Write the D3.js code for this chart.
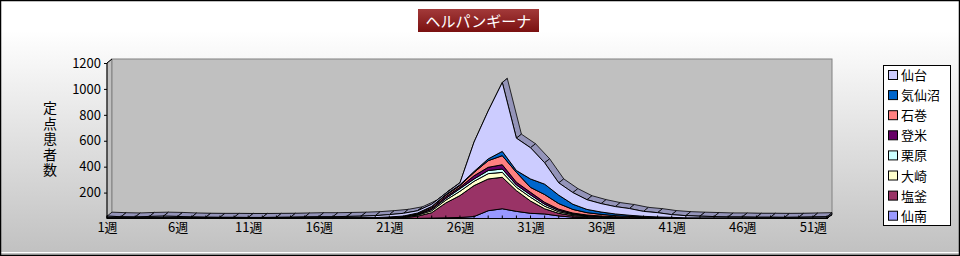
<!DOCTYPE html>
<head>
    <meta charset="utf-8">
    <style>
        body { margin: 0; }
        text { font-family: "Noto Sans CJK JP", sans-serif; }
        .tick text { font-size: 13px; fill: #000; }
        .legend text { font-size: 13px; }
    </style>
    <script src="https://d3js.org/d3.v7.min.js"></script>
</head>
<body>
    <svg width="960" height="256"></svg>
    <script>
        // weeks 1..52
        var weeks = [1,2,3,4,5,6,7,8,9,10,11,12,13,14,15,16,17,18,19,20,
                     21,22,23,24,25,26,27,28,29,30,31,32,33,34,35,36,37,38,39,40,
                     41,42,43,44,45,46,47,48,49,50,51,52];

        // series values per week
        var senan      = [1,1,1,1,1,1,1,1,1,1,1,1,1,1,1,1,1,1,1,1,
                          1,1,1,3,5,8,15,60,75,55,40,35,20,10,6,4,3,2,2,1,1,
                          1,1,1,1,1,1,1,1,1,1,1];
        var shiogama   = [2,2,2,2,2,2,2,2,2,2,2,2,2,2,2,2,2,2,2,2,
                          3,6,17,42,115,169,239,245,243,160,95,40,20,12,8,6,4,3,2,2,1,
                          1,1,1,1,1,1,1,1,1,1,1];
        var osaki      = [1,1,1,1,1,1,1,1,1,1,1,1,1,1,1,1,1,1,1,1,
                          2,3,8,15,22,33,33,41,38,26,29,20,12,8,5,3,2,2,1,1,1,
                          1,1,1,1,1,1,1,1,1,1,1];
        var kurihara   = [1,1,1,1,1,1,1,1,1,1,1,1,1,1,1,1,1,1,1,1,
                          1,2,4,10,13,20,18,24,26,18,18,15,10,6,4,3,2,1,1,1,1,
                          0,0,0,0,0,0,0,0,0,0,0];
        var tome       = [0,0,0,0,0,0,0,0,0,0,0,0,0,0,0,0,0,0,0,0,
                          1,2,4,10,13,11,25,25,33,21,20,15,10,6,4,3,2,2,1,1,1,
                          0,0,0,0,0,0,0,0,0,0,0];
        var ishinomaki = [1,1,1,1,1,1,1,1,1,1,1,1,1,1,1,1,1,1,1,1,
                          3,4,6,10,12,13,26,51,70,76,38,60,43,28,18,13,9,6,5,3,2,
                          1,1,1,1,1,1,1,1,1,1,1];
        var kesennuma  = [1,1,1,1,1,1,1,1,1,1,1,1,1,1,1,1,1,1,1,1,
                          1,1,2,3,5,6,7,14,33,14,65,80,65,40,25,18,13,9,5,3,2,
                          1,1,1,1,1,1,1,1,1,1,1];
        var sendai     = [11,7,5,9,11,9,5,3,2,2,1,1,2,3,5,7,7,9,11,15,
                          18,21,18,17,10,15,227,370,532,250,241,165,95,90,75,65,57,52,38,33,21,
                          17,13,10,7,7,5,5,4,5,7,9];

        var keys   = ["仙南","塩釜","大崎","栗原","登米","石巻","気仙沼","仙台"];
        var series = [senan, shiogama, osaki, kurihara, tome, ishinomaki, kesennuma, sendai];
        var colors = ["#9999ff","#993366","#ffffcc","#ccffff","#660066","#ff8080","#0066cc","#ccccff"];

        var yTicks = [200, 400, 600, 800, 1000, 1200];
        var xLabelWeeks = [1, 6, 11, 16, 21, 26, 31, 36, 41, 46, 51];

        var rows = weeks.map(function(w, i) {
            var r = { week: w };
            keys.forEach(function(k, j) { r[k] = series[j][i]; });
            return r;
        });

        var svg = d3.select("svg");
        var defs = svg.append("defs");

        var bg = defs.append("linearGradient").attr("id", "bg")
            .attr("x1", 0).attr("y1", 0).attr("x2", 0).attr("y2", 1);
        bg.append("stop").attr("offset", "0.12").attr("stop-color", "#ffffff");
        bg.append("stop").attr("offset", "1").attr("stop-color", "#c0c0c0");

        var tg = defs.append("linearGradient").attr("id", "tg")
            .attr("x1", 0).attr("y1", 0).attr("x2", 0).attr("y2", 1);
        tg.append("stop").attr("offset", "0").attr("stop-color", "#a33a3a");
        tg.append("stop").attr("offset", "1").attr("stop-color", "#7a1010");

        svg.append("rect").attr("x", 0).attr("y", 0).attr("width", 960).attr("height", 256)
            .attr("fill", "url(#bg)");
        svg.append("line").attr("x1", 1).attr("x2", 959).attr("y1", 252.5).attr("y2", 252.5)
            .attr("stroke", "#fff");
        svg.append("rect").attr("x", 0.5).attr("y", 0.5).attr("width", 959).attr("height", 255)
            .attr("fill", "none").attr("stroke", "#000").attr("stroke-width", 1.5);

        // title
        svg.append("rect").attr("x", 418).attr("y", 9).attr("width", 121).attr("height", 23)
            .attr("fill", "url(#tg)");
        svg.append("text").attr("x", 478.5).attr("y", 26.5).attr("text-anchor", "middle")
            .attr("fill", "#fff").style("font-size", "15px").text("ヘルパンギーナ");

        var x = d3.scalePoint().domain(weeks).range([107, 827]);
        var y = d3.scaleLinear().domain([0, 1200]).range([218.5, 63]);
        var DX = 5, DY = -4;
        var x0 = x(1), x1 = x(52), yb = y(0), yt = y(1200);

        // walls
        svg.append("polygon")
            .attr("points", [[x0, yt], [x0 + DX, yt + DY], [x0 + DX, yb + DY], [x0, yb]].join(" "))
            .attr("fill", "#c0c0c0").attr("stroke", "#808080");
        svg.append("rect").attr("x", x0 + DX).attr("y", yt + DY)
            .attr("width", x1 - x0).attr("height", yb - yt)
            .attr("fill", "#c0c0c0").attr("stroke", "#808080");
        svg.append("polygon")
            .attr("points", [[x0, yb], [x0 + DX, yb + DY], [x1 + DX, yb + DY], [x1, yb]].join(" "))
            .attr("fill", "#c0c0c0").attr("stroke", "#808080");

        var stacked = d3.stack().keys(keys)(rows);

        var area = d3.area()
            .x(function(d) { return x(d.data.week); })
            .y0(function(d) { return y(d[0]); })
            .y1(function(d) { return y(d[1]); });

        var g = svg.append("g");
        stacked.forEach(function(layer, i) {
            var top = d3.color(colors[i]).darker(0.9).formatHex();
            var segs = d3.pairs(layer);
            g.append("g").selectAll("polygon")
                .data(segs)
                .join("polygon")
                .attr("points", function(p) {
                    var ax = x(p[0].data.week), ay = y(p[0][1]);
                    var bx = x(p[1].data.week), by = y(p[1][1]);
                    return [[ax, ay], [bx, by], [bx + DX, by + DY], [ax + DX, ay + DY]].join(" ");
                })
                .attr("fill", top).attr("stroke", "#000").attr("stroke-width", 0.8)
                .attr("stroke-linejoin", "round");

            g.append("path").datum(layer)
                .attr("d", area)
                .attr("fill", colors[i]).attr("stroke", "#000").attr("stroke-width", 1);

            var last = layer[layer.length - 1];
            var lx = x(last.data.week), lo = y(last[0]), hi = y(last[1]);
            g.append("polygon")
                .attr("points", [[lx, lo], [lx, hi], [lx + DX, hi + DY], [lx + DX, lo + DY]].join(" "))
                .attr("fill", top).attr("stroke", "#000").attr("stroke-width", 0.8);
        });

        // axes
        svg.append("line").attr("x1", x0).attr("x2", x0).attr("y1", yt).attr("y2", yb).attr("stroke", "#000");
        svg.append("line").attr("x1", x0).attr("x2", x0 + DX).attr("y1", yt).attr("y2", yt + DY).attr("stroke", "#000");
        svg.append("line").attr("x1", x0).attr("x2", x1).attr("y1", yb).attr("y2", yb).attr("stroke", "#000");

        svg.append("g").selectAll("line")
            .data(weeks)
            .join("line")
            .attr("x1", function(d) { return x(d); }).attr("x2", function(d) { return x(d); })
            .attr("y1", yb).attr("y2", yb - 3).attr("stroke", "#000");

        var yAxis = svg.append("g")
            .attr("transform", "translate(" + x0 + ",0)")
            .call(d3.axisLeft(y).tickValues(yTicks).tickSize(3).tickPadding(3)
                .tickFormat(d3.format("d")));
        yAxis.select(".domain").remove();

        var xAxis = svg.append("g")
            .attr("transform", "translate(0," + yb + ")")
            .call(d3.axisBottom(x).tickValues(xLabelWeeks).tickSize(0).tickPadding(4)
                .tickFormat(function(d) { return d + "週"; }));
        xAxis.select(".domain").remove();

        svg.append("text")
            .attr("x", 50).attr("y", 101)
            .style("writing-mode", "vertical-rl")
            .style("text-orientation", "upright")
            .style("font-size", "14px")
            .style("letter-spacing", "1.5px")
            .text("定点患者数");

        // legend
        var lg = svg.append("g").attr("class", "legend");
        lg.append("rect").attr("x", 883.5).attr("y", 65.5).attr("width", 67).attr("height", 160)
            .attr("fill", "#fff").attr("stroke", "#000");
        var order = keys.map(function(k, i) { return i; }).reverse();
        var item = lg.selectAll("g.item").data(order).join("g").attr("class", "item")
            .attr("transform", function(d, j) { return "translate(888," + (75 + j * 20.1) + ")"; });
        item.append("rect").attr("x", 0.5).attr("y", -4.5).attr("width", 9).attr("height", 9)
            .attr("fill", function(d) { return colors[d]; }).attr("stroke", "#000");
        item.append("text").attr("x", 13).attr("y", 5)
            .text(function(d) { return keys[d]; });
    </script>
</body>
</html>
